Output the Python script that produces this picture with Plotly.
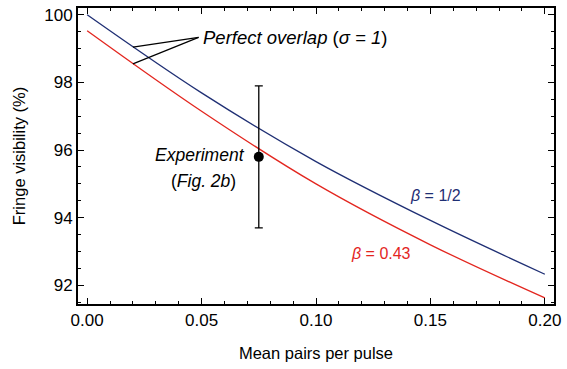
import numpy as np
import plotly.graph_objects as go

# Data
mean_pairs = [0.0, 0.05, 0.10, 0.15, 0.20]
vis_beta_half = [100.0, 97.69, 95.66, 93.92, 92.33]
vis_beta_043 = [99.53, 97.15, 95.00, 93.20, 91.63]

exp_x = [0.075]
exp_y = [95.8]
exp_err = [2.1]

x_ticks = [0.0, 0.05, 0.10, 0.15, 0.20]
x_ticktext = ["0.00", "0.05", "0.10", "0.15", "0.20"]
y_ticks = [92, 94, 96, 98, 100]

BLUE = "#1f2f74"
RED = "#e3261f"
FONT = "Liberation Sans, Arial, Helvetica, sans-serif"

fig = go.Figure()
fig.add_trace(go.Scatter(x=mean_pairs, y=vis_beta_half, mode="lines",
                         line=dict(color=BLUE, width=1.3, shape="spline"),
                         showlegend=False, hoverinfo="skip"))
fig.add_trace(go.Scatter(x=mean_pairs, y=vis_beta_043, mode="lines",
                         line=dict(color=RED, width=1.3, shape="spline"),
                         showlegend=False, hoverinfo="skip"))
fig.add_trace(go.Scatter(x=exp_x, y=exp_y, mode="markers",
                         marker=dict(color="black", size=10),
                         error_y=dict(type="data", array=exp_err, color="black",
                                      thickness=1.3, width=4),
                         showlegend=False))

# Pointer lines for "Perfect overlap"
tip_x, tip_y = 0.0487, 99.33
px = 0.02
for ys in (vis_beta_half, vis_beta_043):
    fig.add_shape(type="line", x0=tip_x, y0=tip_y, x1=px,
                  y1=float(np.interp(px, mean_pairs, ys)) - 0.03,
                  line=dict(color="black", width=1.2))

ann_font = dict(size=17.5, color="black", family=FONT)
fig.add_annotation(x=0.0505, y=99.33, xanchor="left", yanchor="middle", xshift=-2,
                   text="<i>Perfect overlap</i> (<i>σ</i> <i>= 1</i>)", showarrow=False,
                   font=dict(size=18.5, color="black", family=FONT))
fig.add_annotation(x=0.0685, y=95.86, xanchor="right", yanchor="middle", xshift=3,
                   text="<i>Experiment</i>", showarrow=False, font=ann_font)
fig.add_annotation(x=0.0645, y=95.1, xanchor="right", yanchor="middle", xshift=3,
                   text="(<i>Fig. 2b</i>)", showarrow=False, font=ann_font)
fig.add_annotation(x=0.1415, y=94.67, xanchor="left", yanchor="middle", xshift=-3,
                   text="<i>β</i> = 1/2", showarrow=False,
                   font=dict(size=16, color=BLUE, family=FONT))
fig.add_annotation(x=0.1156, y=92.95, xanchor="left", yanchor="middle", xshift=-3,
                   text="<i>β</i> = 0.43", showarrow=False,
                   font=dict(size=16, color=RED, family=FONT))

axis_common = dict(showline=True, linecolor="black", linewidth=2, mirror="allticks",
                   ticks="inside", ticklen=6, tickwidth=1, tickcolor="black",
                   showgrid=False, zeroline=False, ticklabeloverflow="allow",
                   tickfont=dict(size=17, color="black", family=FONT))

fig.update_xaxes(range=[-0.004, 0.204], tickvals=x_ticks, ticktext=x_ticktext,
                 minor=dict(dtick=0.01, ticks="inside", ticklen=3, tickcolor="black"),
                 title=dict(text="Mean pairs per pulse", standoff=18,
                            font=dict(size=16.5, color="black", family=FONT)),
                 **axis_common)
fig.update_yaxes(range=[91.45, 100.2], tickvals=y_ticks,
                 minor=dict(dtick=0.5, ticks="inside", ticklen=3, tickcolor="black"),
                 title=dict(text="Fringe visibility (%)", standoff=14,
                            font=dict(size=16.5, color="black", family=FONT)),
                 **axis_common)

fig.update_layout(width=567, height=369, margin=dict(l=78, r=8, t=6, b=65),
                  paper_bgcolor="white", plot_bgcolor="white",
                  font=dict(family=FONT, color="black"))

fig.write_html("out.html", config={"displayModeBar": False},
               post_script="document.body.style.margin='0';")
